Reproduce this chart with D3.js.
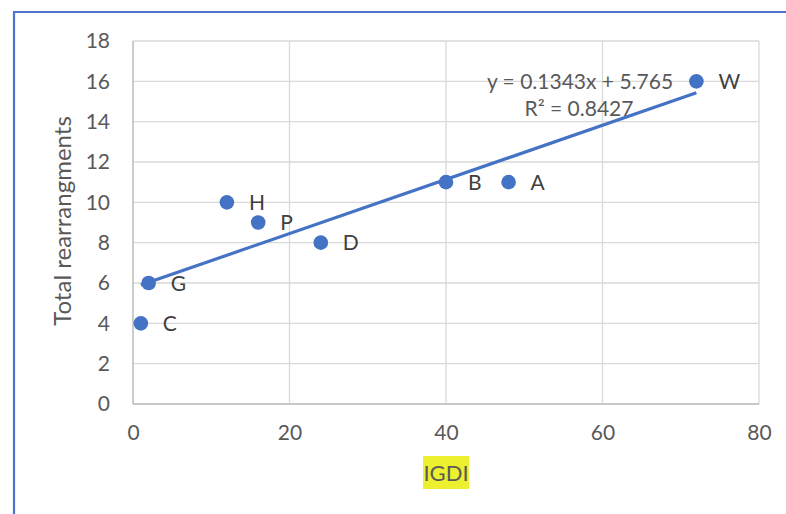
<!DOCTYPE html>
<html>
<head>
<meta charset="utf-8">
<script src="https://cdn.jsdelivr.net/npm/d3@7"></script>
<style>
html,body{margin:0;padding:0;background:#fff;}
svg{display:block;}
text{font-family:Lato, "Open Sans", sans-serif;}
</style>
</head>
<body>
<svg id="chart" width="786" height="514"></svg>
<script>
const labels = ["C","G","H","P","D","B","A","W"];
const igdi = [1, 2, 12, 16, 24, 40, 48, 72];
const rearr = [4, 6, 10, 9, 8, 11, 11, 16];
const xTicks = [0, 20, 40, 60, 80];
const yTicks = [0, 2, 4, 6, 8, 10, 12, 14, 16, 18];
const slope = 0.1343, intercept = 5.765;
const eqText = "y = 0.1343x + 5.765";
const r2Text = "R² = 0.8427";

const svg = d3.select("#chart");
const blue = "#4472C4";

// outer border (left and top)
svg.append("line").attr("x1",14).attr("x2",14).attr("y1",12).attr("y2",514)
  .attr("stroke","#4f74cf").attr("stroke-width",2.2);
svg.append("line").attr("x1",13).attr("x2",786).attr("y1",12).attr("y2",12)
  .attr("stroke","#4f74cf").attr("stroke-width",2.2);

const x = d3.scaleLinear().domain([0,80]).range([133,759]);
const y = d3.scaleLinear().domain([0,18]).range([404,41]);

// grid
svg.append("g").selectAll("line").data(yTicks).join("line")
  .attr("x1",x(0)).attr("x2",x(80)).attr("y1",d=>y(d)).attr("y2",d=>y(d))
  .attr("stroke","#d9d9d9").attr("stroke-width",1.3);
svg.append("g").selectAll("line").data(xTicks).join("line")
  .attr("x1",d=>x(d)).attr("x2",d=>x(d)).attr("y1",y(0)).attr("y2",y(18))
  .attr("stroke","#d9d9d9").attr("stroke-width",1.3);
// axes lines
svg.append("line").attr("x1",x(0)).attr("x2",x(80)).attr("y1",y(0)).attr("y2",y(0))
  .attr("stroke","#bfbfbf").attr("stroke-width",1.3);
svg.append("line").attr("x1",x(0)).attr("x2",x(0)).attr("y1",y(0)).attr("y2",y(18))
  .attr("stroke","#bfbfbf").attr("stroke-width",1.3);

// tick labels via axes
const yAxis = svg.append("g").attr("transform",`translate(${x(0)},0)`)
  .call(d3.axisLeft(y).tickValues(yTicks).tickSize(0).tickPadding(23));
const xAxis = svg.append("g").attr("transform",`translate(0,${y(0)})`)
  .call(d3.axisBottom(x).tickValues(xTicks).tickSize(0).tickPadding(21));
[yAxis,xAxis].forEach(a=>{
  a.select(".domain").remove();
  a.selectAll("text").attr("fill","#595959").style("font-size","21px")
    .style("font-family","Lato, 'Open Sans', sans-serif");
});

// trendline
svg.append("line")
  .attr("x1",x(d3.min(igdi))).attr("y1",y(slope*d3.min(igdi)+intercept))
  .attr("x2",x(d3.max(igdi))).attr("y2",y(slope*d3.max(igdi)+intercept))
  .attr("stroke",blue).attr("stroke-width",3.2);

// points
const data = labels.map((l,i)=>({l, x:igdi[i], y:rearr[i]}));
svg.append("g").selectAll("circle").data(data).join("circle")
  .attr("cx",d=>x(d.x)).attr("cy",d=>y(d.y)).attr("r",7.3).attr("fill",blue);
svg.append("g").selectAll("text").data(data).join("text")
  .attr("x",d=>x(d.x)+22).attr("y",d=>y(d.y)).attr("dy","0.36em")
  .attr("fill","#404040").style("font-size","21px").text(d=>d.l);

// equation
svg.append("text").attr("x",580).attr("y",81).attr("dy","0.36em").attr("text-anchor","middle")
  .attr("fill","#595959").style("font-size","21px").text(eqText);
svg.append("text").attr("x",579).attr("y",108).attr("dy","0.36em").attr("text-anchor","middle")
  .attr("fill","#595959").style("font-size","21px").text(r2Text);

// axis titles
svg.append("text").attr("transform","translate(62,221) rotate(-90)")
  .attr("text-anchor","middle").attr("dy","0.36em")
  .attr("fill","#595959").style("font-size","24px").text("Total rearrangments");

svg.append("rect")
  .attr("x",423).attr("y",456).attr("width",46).attr("height",33).attr("fill","#ecf02f");
svg.append("text").attr("x",446).attr("y",473).attr("dy","0.36em")
  .attr("text-anchor","middle").attr("fill","#595959").style("font-size","22px").text("IGDI");
</script>
</body>
</html>
